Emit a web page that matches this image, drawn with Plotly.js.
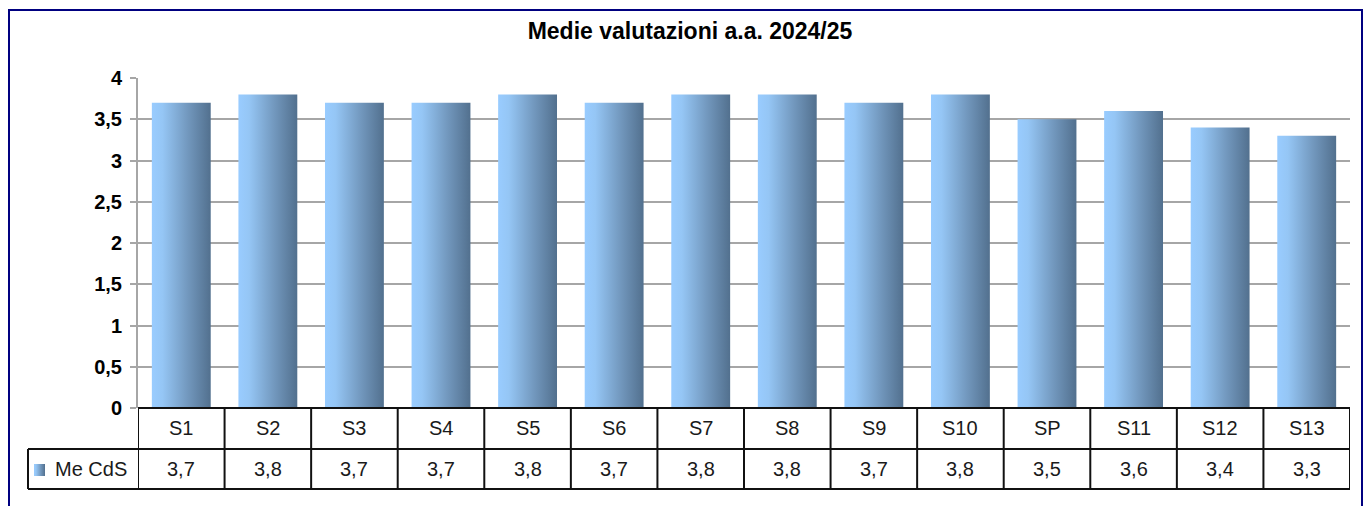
<!DOCTYPE html>
<html><head><meta charset="utf-8">
<script src="https://cdn.plot.ly/plotly-3.0.1.min.js"></script>
<style>
html,body{margin:0;padding:0;background:#fff;overflow:hidden;}
#wrap{position:relative;width:1367px;height:506px;}
#chart{width:1367px;height:506px;}
#frame{position:absolute;left:8px;top:9px;width:1351px;height:520px;border:2px solid #000080;pointer-events:none;}
</style>
</head><body>
<div id="wrap"><div id="chart"></div><div id="frame"></div></div>
<script>
const categories = ['S1','S2','S3','S4','S5','S6','S7','S8','S9','S10','SP','S11','S12','S13'];
const values = [3.7,3.8,3.7,3.7,3.8,3.7,3.8,3.8,3.7,3.8,3.5,3.6,3.4,3.3];
const seriesName = 'Me CdS';
const yTickVals = [0,0.5,1,1.5,2,2.5,3,3.5,4];
const yTickText = ['0','0,5','1','1,5','2','2,5','3','3,5','4'];
const chartTitle = 'Medie valutazioni a.a. 2024/25';

const N = categories.length;
const idx = categories.map((c,i)=>i);
const plotH = 330;             // plot area height in px
const row1 = -41/plotH;        // bottom of category row (paper)
const row2 = -81/plotH;        // bottom of value row (paper)
const legendLeft = -110/1212;  // left edge of legend cell (paper)
const lineStyle = {color:'#111', width:2};
const tableFont = {family:'Arial, "Liberation Sans", sans-serif', size:20, color:'#1a1a1a'};

const shapes = [];
shapes.push({type:'line', xref:'x', yref:'paper', x0:-0.5, x1:N-0.5, y0:0, y1:0, line:lineStyle});
shapes.push({type:'line', xref:'paper', yref:'paper', x0:legendLeft, x1:1, y0:row1, y1:row1, line:lineStyle});
shapes.push({type:'line', xref:'paper', yref:'paper', x0:legendLeft, x1:1, y0:row2, y1:row2, line:lineStyle});
for (let i=0;i<=N;i++){
  shapes.push({type:'line', xref:'x', yref:'paper', x0:i-0.5, x1:i-0.5, y0:0, y1:row2, line:lineStyle});
}
shapes.push({type:'line', xref:'paper', yref:'paper', x0:legendLeft, x1:legendLeft, y0:row1, y1:row2, line:lineStyle});
shapes.push({type:'rect', xref:'paper', yref:'paper', x0:(34-138)/1212, x1:(45-138)/1212,
  y0:(408-464)/plotH, y1:(408-476)/plotH, fillcolor:'#99ccfe', line:{width:0}});

const annotations = [];
categories.forEach((c,i)=>{
  annotations.push({x:i, y:(0+row1)/2, xref:'x', yref:'paper', text:c, showarrow:false, font:tableFont, xanchor:'center', yanchor:'middle'});
  annotations.push({x:i, y:(row1+row2)/2, xref:'x', yref:'paper', text:values[i].toFixed(1).replace('.',','), showarrow:false, font:tableFont, xanchor:'center', yanchor:'middle'});
});
annotations.push({x:(53-138)/1212, y:(row1+row2)/2, xref:'paper', yref:'paper', text:seriesName, showarrow:false, font:tableFont, xanchor:'left', yanchor:'middle'});

const trace = {
  type:'bar', x:idx, y:values, name:seriesName, width:0.68,
  marker:{color:'#99ccff', line:{width:0}}, hoverinfo:'none'
};

const layout = {
  width:1367, height:506,
  margin:{l:138, r:17, t:78, b:98},
  paper_bgcolor:'#fff', plot_bgcolor:'#fff',
  showlegend:false,
  separators:',.',
  title:{text:chartTitle, x:690/1367, xref:'container', xanchor:'center', y:1-31/506, yref:'container', yanchor:'middle',
    font:{family:'Arial, "Liberation Sans", sans-serif', size:23, color:'#000', weight:'bold'}},
  xaxis:{range:[-0.5,N-0.5], showticklabels:false, showgrid:false, zeroline:false, showline:false, ticks:'', fixedrange:true},
  yaxis:{range:[0,4], tickvals:yTickVals, ticktext:yTickText, showgrid:true, gridcolor:'#a6a6a6', gridwidth:2,
    zeroline:false, showline:true, linecolor:'#a6a6a6', linewidth:2, ticks:'outside', ticklen:6, tickwidth:2, tickcolor:'#a6a6a6',
    ticklabelstandoff:4,
    tickfont:{family:'Arial, "Liberation Sans", sans-serif', size:20, color:'#000', weight:'bold'}, fixedrange:true},
  shapes:shapes, annotations:annotations
};

Plotly.newPlot('chart',[trace],layout,{displayModeBar:false, staticPlot:true}).then(gd=>{
  const svg = gd.querySelector('svg.main-svg');
  const ns = 'http://www.w3.org/2000/svg';
  let defs = svg.querySelector('defs');
  if(!defs){defs=document.createElementNS(ns,'defs'); svg.insertBefore(defs, svg.firstChild);}
  const g = document.createElementNS(ns,'linearGradient');
  g.setAttribute('id','barGrad'); g.setAttribute('x1','0'); g.setAttribute('y1','0'); g.setAttribute('x2','1'); g.setAttribute('y2','0');
  [['0','#99CCFF'],['0.18','#95C6F5'],['0.6','#7399BF'],['1','#52708E']].forEach(([o,c])=>{
    const s=document.createElementNS(ns,'stop'); s.setAttribute('offset',o); s.setAttribute('stop-color',c); g.appendChild(s);
  });
  defs.appendChild(g);
  gd.querySelectorAll('.trace.bars .point path').forEach(p=>{p.style.fill='url(#barGrad)';});
  gd.querySelectorAll('.shapelayer path').forEach(p=>{
    if((p.style.fill||'').replace(/\s/g,'')==='rgb(153,204,254)') p.style.fill='url(#barGrad)';
  });
});
</script>
</body></html>
